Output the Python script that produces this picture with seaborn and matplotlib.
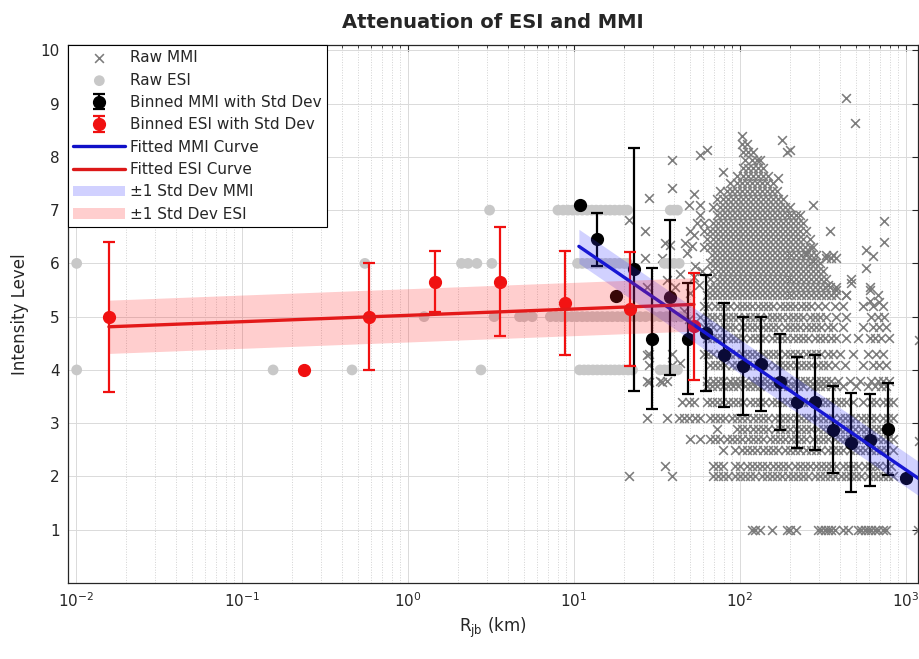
import numpy as np
import matplotlib
matplotlib.use("Agg")
import matplotlib.pyplot as plt
from matplotlib.ticker import LogLocator, NullLocator
import seaborn as sns

# -------------------------
# Data
# -------------------------
# binned MMI (distance km, mean intensity, std)
mmi_bin_r = [10.8, 13.8, 17.9, 23.0, 29.6, 37.8, 48.4, 62.1, 80.5, 104, 133, 173,
             220, 283, 365, 467, 607, 782, 1000]
mmi_bin_i = [7.10, 6.45, 5.39, 5.89, 4.59, 5.36, 4.59, 4.69, 4.28, 4.08, 4.11, 3.78,
             3.39, 3.39, 2.88, 2.63, 2.69, 2.89, 1.97]
mmi_bin_sd = [0.0, 0.50, 0.0, 2.28, 1.33, 1.46, 1.05, 1.09, 0.97, 0.92, 0.89, 0.90,
              0.85, 0.89, 0.81, 0.93, 0.86, 0.86, 0.0]

# binned ESI
esi_bin_r = [0.0158, 0.236, 0.58, 1.46, 3.58, 8.83, 21.7, 52.8]
esi_bin_i = [5.00, 4.00, 5.00, 5.66, 5.66, 5.26, 5.14, 4.82]
esi_bin_sd = [1.41, 0.0, 1.00, 0.58, 1.03, 0.98, 1.07, 1.00]

# fitted curves (end points, straight in log distance) and +-1 std bands
mmi_fit_r = [10.7, 1300]
mmi_fit_i = [6.32, 1.88]
mmi_fit_sd = 0.32
esi_fit_r = [0.0158, 52.8]
esi_fit_i = [4.81, 5.23]
esi_fit_sd = 0.50

# raw ESI observations, grouped by intensity level (km)
raw_esi_levels = [4, 5, 6, 7]
raw_esi_r = [
    [0.0101, 0.154, 0.236, 0.46, 2.75, 10.8, 11.5, 12.2, 13.0, 13.8, 14.7, 15.6,
     16.6, 17.6, 18.7, 19.9, 21.2, 22.5, 33, 35, 37.5, 40, 42],
    [0.58, 1.25, 3.3, 4.7, 5.0, 5.6, 7.2, 7.8, 8.4, 9.0, 9.7, 10.4, 11.2, 12.0,
     12.9, 13.8, 14.8, 15.9, 17.0, 18.3, 19.6, 21.0, 23, 25, 27, 30, 33, 36, 40, 44],
    [0.0101, 0.55, 2.1, 2.3, 2.6, 3.2, 10.5, 11.2, 12.0, 12.8, 13.6, 14.5, 15.5,
     16.5, 17.6, 18.8, 20.0, 21.0, 35, 37, 40, 43],
    [3.1, 8.0, 8.6, 9.2, 9.8, 10.5, 11.2, 12.0, 12.8, 13.6, 14.5, 15.5, 16.5, 17.6,
     18.8, 20.0, 21.0, 38, 40, 42],
]

# raw MMI observations: rows of log10(distance) per intensity level
raw_mmi_levels = [1.0, 2.0, 2.2, 2.5, 2.7, 2.9, 3.1, 3.4, 3.7, 3.8, 4.1, 4.3, 4.6,
                  4.8, 5.0, 5.2, 5.4, 5.55, 5.7, 5.85, 6.0, 6.15, 6.3, 6.45, 6.6,
                  6.75, 6.9, 7.05, 7.2, 7.35, 7.5, 7.65, 7.8, 7.95, 8.1, 8.25, 8.4]
raw_mmi_logr = [
    [2.07, 2.09, 2.12, 2.19, 2.28, 2.30, 2.34, 2.47, 2.49, 2.51, 2.53, 2.55, 2.57, 2.62,
     2.65, 2.71, 2.73, 2.75, 2.77, 2.79, 2.81, 2.83, 2.86, 2.88, 3.07],
    [1.33, 1.59, 1.84, 1.87, 1.90, 1.93, 1.97, 2.00, 2.03, 2.06, 2.09, 2.13, 2.16, 2.19,
     2.22, 2.25, 2.29, 2.32, 2.35, 2.38, 2.41, 2.45, 2.48, 2.51, 2.54, 2.57, 2.61, 2.64,
     2.67, 2.70, 2.73, 2.77, 2.80, 2.83, 2.86, 2.89, 2.92],
    [1.55, 1.84, 1.87, 1.90, 1.97, 2.00, 2.04, 2.07, 2.10, 2.13, 2.16, 2.20, 2.23, 2.26,
     2.29, 2.33, 2.36, 2.39, 2.42, 2.46, 2.49, 2.52, 2.55, 2.58, 2.62, 2.65, 2.68, 2.71,
     2.75, 2.78, 2.81, 2.84, 2.88, 2.91],
    [1.90, 1.97, 2.01, 2.04, 2.07, 2.10, 2.14, 2.17, 2.20, 2.23, 2.27, 2.30, 2.33, 2.36,
     2.40, 2.43, 2.46, 2.49, 2.53, 2.56, 2.59, 2.62, 2.66, 2.69, 2.72, 2.75, 2.79, 2.82,
     2.85, 2.88, 2.92],
    [1.70, 1.76, 1.82, 1.85, 1.88, 1.92, 1.95, 1.98, 2.01, 2.05, 2.08, 2.11, 2.14, 2.18,
     2.21, 2.24, 2.27, 2.31, 2.34, 2.37, 2.40, 2.44, 2.47, 2.50, 2.53, 2.57, 2.60, 2.63,
     2.66, 2.70, 2.73, 2.76, 2.79, 2.83, 2.86, 2.89, 2.92],
    [1.86, 1.98, 2.01, 2.04, 2.08, 2.11, 2.14, 2.17, 2.21, 2.24, 2.27, 2.30, 2.34, 2.37,
     2.40, 2.43, 2.47, 2.50, 2.53, 2.56, 2.60, 2.63, 2.66, 2.69, 2.73, 2.76, 2.79, 2.82,
     2.85, 2.88],
    [1.44, 1.56, 1.63, 1.66, 1.69, 1.73, 1.76, 1.82, 1.85, 1.88, 1.91, 1.95, 1.98, 2.01,
     2.04, 2.08, 2.11, 2.14, 2.17, 2.21, 2.24, 2.27, 2.30, 2.34, 2.37, 2.40, 2.43, 2.47,
     2.50, 2.53, 2.56, 2.60, 2.63, 2.66, 2.69, 2.73, 2.76, 2.79, 2.82, 2.86, 2.89, 2.92],
    [1.65, 1.69, 1.72, 1.80, 1.83, 1.86, 1.89, 1.93, 1.96, 1.99, 2.02, 2.06, 2.09, 2.12,
     2.15, 2.19, 2.22, 2.25, 2.28, 2.32, 2.35, 2.38, 2.41, 2.45, 2.48, 2.51, 2.54, 2.58,
     2.61, 2.64, 2.68, 2.74, 2.79, 2.82, 2.86, 2.89, 2.92],
    [1.80, 1.83, 1.86, 1.90, 1.93, 1.96, 1.99, 2.03, 2.06, 2.09, 2.12, 2.16, 2.19, 2.22,
     2.25, 2.29, 2.32, 2.35, 2.38, 2.42, 2.45, 2.48, 2.51, 2.55, 2.58, 2.62, 2.70, 2.77,
     2.81, 2.85, 2.88],
    [1.44, 1.52, 1.56, 1.80, 1.84, 1.87, 1.90, 1.94, 1.97, 2.00, 2.03, 2.07, 2.10, 2.13,
     2.16, 2.20, 2.23, 2.26, 2.29, 2.33, 2.36, 2.39, 2.42, 2.46, 2.49, 2.52, 2.55, 2.59,
     2.66, 2.72, 2.79, 2.83, 2.86, 2.90],
    [1.45, 1.59, 1.82, 1.85, 1.88, 1.91, 1.95, 1.98, 2.01, 2.04, 2.08, 2.11, 2.14, 2.17,
     2.21, 2.24, 2.27, 2.30, 2.34, 2.37, 2.40, 2.43, 2.47, 2.50, 2.53, 2.57, 2.63, 2.74,
     2.80, 2.84, 2.88],
    [1.45, 1.59, 1.78, 1.81, 1.84, 1.88, 1.91, 1.94, 1.97, 2.01, 2.04, 2.07, 2.10, 2.14,
     2.17, 2.20, 2.23, 2.27, 2.30, 2.33, 2.36, 2.40, 2.43, 2.46, 2.49, 2.53, 2.56, 2.60,
     2.68, 2.77, 2.82, 2.86],
    [1.80, 1.83, 1.86, 1.89, 1.93, 1.96, 1.99, 2.02, 2.06, 2.09, 2.12, 2.15, 2.19, 2.22,
     2.25, 2.28, 2.32, 2.35, 2.38, 2.41, 2.45, 2.48, 2.51, 2.55, 2.58, 2.64, 2.71, 2.78,
     2.81, 2.85, 2.90],
    [1.78, 1.81, 1.84, 1.88, 1.91, 1.94, 1.97, 2.01, 2.04, 2.07, 2.10, 2.14, 2.17, 2.20,
     2.23, 2.27, 2.30, 2.33, 2.36, 2.40, 2.43, 2.46, 2.49, 2.53, 2.56, 2.62, 2.74, 2.80,
     2.84, 2.88],
    [1.59, 1.76, 1.80, 1.83, 1.86, 1.90, 1.93, 1.96, 1.99, 2.03, 2.06, 2.09, 2.12, 2.16,
     2.19, 2.22, 2.25, 2.29, 2.32, 2.35, 2.38, 2.42, 2.45, 2.48, 2.52, 2.58, 2.64, 2.79,
     2.83, 2.87],
    [1.78, 1.81, 1.85, 1.88, 1.91, 1.94, 1.98, 2.01, 2.04, 2.07, 2.11, 2.14, 2.17, 2.20,
     2.24, 2.27, 2.30, 2.33, 2.37, 2.40, 2.43, 2.47, 2.51, 2.57, 2.62, 2.74, 2.80, 2.86],
    [1.80, 1.83, 1.86, 1.89, 1.92, 1.95, 1.98, 2.01, 2.04, 2.07, 2.10, 2.13, 2.16, 2.19,
     2.22, 2.25, 2.28, 2.31, 2.34, 2.37, 2.40, 2.43, 2.46, 2.49, 2.52, 2.55, 2.58, 2.64,
     2.83],
    [1.82, 1.85, 1.88, 1.91, 1.94, 1.97, 2.00, 2.03, 2.06, 2.09, 2.12, 2.15, 2.18, 2.21,
     2.24, 2.27, 2.30, 2.33, 2.36, 2.39, 2.42, 2.45, 2.48, 2.51, 2.54, 2.58, 2.78],
    [1.82, 1.86, 1.89, 1.92, 1.95, 1.98, 2.01, 2.04, 2.07, 2.10, 2.13, 2.16, 2.19, 2.22,
     2.25, 2.28, 2.31, 2.34, 2.37, 2.40, 2.43, 2.46, 2.49, 2.52, 2.67],
    [1.83, 1.87, 1.90, 1.93, 1.96, 1.99, 2.02, 2.05, 2.08, 2.11, 2.14, 2.17, 2.20, 2.23,
     2.26, 2.29, 2.32, 2.35, 2.38, 2.41, 2.44, 2.47, 2.50],
    [1.82, 1.85, 1.88, 1.91, 1.94, 1.97, 2.00, 2.03, 2.06, 2.09, 2.12, 2.15, 2.18, 2.21,
     2.24, 2.27, 2.30, 2.33, 2.36, 2.39, 2.42, 2.45, 2.48],
    [1.83, 1.86, 1.89, 1.92, 1.95, 1.98, 2.01, 2.04, 2.07, 2.10, 2.13, 2.16, 2.19, 2.22,
     2.25, 2.28, 2.31, 2.34, 2.37, 2.40, 2.43, 2.46, 2.52, 2.56],
    [1.82, 1.85, 1.88, 1.91, 1.94, 1.97, 2.00, 2.03, 2.06, 2.09, 2.12, 2.15, 2.18, 2.21,
     2.24, 2.27, 2.30, 2.33, 2.36, 2.39, 2.42, 2.44],
    [1.80, 1.84, 1.87, 1.90, 1.93, 1.96, 1.99, 2.02, 2.05, 2.08, 2.11, 2.14, 2.17, 2.20,
     2.23, 2.26, 2.29, 2.32, 2.35, 2.38, 2.42],
    [1.78, 1.82, 1.85, 1.88, 1.91, 1.94, 1.97, 2.00, 2.03, 2.06, 2.09, 2.12, 2.15, 2.18,
     2.21, 2.24, 2.27, 2.30, 2.33, 2.36, 2.40],
    [1.78, 1.84, 1.87, 1.90, 1.93, 1.96, 1.99, 2.02, 2.05, 2.08, 2.11, 2.14, 2.17, 2.20,
     2.23, 2.26, 2.29, 2.32, 2.35, 2.38],
    [1.76, 1.86, 1.89, 1.92, 1.95, 1.98, 2.01, 2.04, 2.07, 2.10, 2.13, 2.16, 2.19, 2.22,
     2.25, 2.28, 2.31, 2.34, 2.36],
    [1.84, 1.88, 1.91, 1.94, 1.97, 2.00, 2.03, 2.06, 2.09, 2.12, 2.15, 2.18, 2.21, 2.24,
     2.27, 2.30],
    [1.86, 1.90, 1.93, 1.96, 1.99, 2.02, 2.05, 2.08, 2.11, 2.14, 2.17, 2.20, 2.23, 2.26],
    [1.88, 1.92, 1.95, 1.98, 2.01, 2.04, 2.07, 2.10, 2.13, 2.16, 2.19, 2.22],
    [1.94, 1.98, 2.01, 2.04, 2.07, 2.10, 2.13, 2.16, 2.20],
    [1.98, 2.02, 2.05, 2.08, 2.11, 2.14, 2.17],
    [2.02, 2.05, 2.08, 2.11, 2.14],
    [2.03, 2.07, 2.10, 2.12],
    [2.02, 2.05, 2.08],
    [2.01, 2.04],
    [2.01],
]

# scattered raw MMI points outside the dense rows
raw_mmi_out_logr = [2.64, 2.69, 2.25, 2.28, 2.30, 1.76, 1.80, 1.59, 1.90, 2.23, 1.59, 1.45,
                    1.72, 1.69, 1.76, 2.44, 2.87, 2.87, 2.54, 1.33, 1.43, 2.76, 2.80, 2.76,
                    2.52, 2.55, 2.58, 2.40, 2.44, 1.43, 1.53, 1.58, 1.71, 1.72, 1.67, 1.55,
                    2.64, 2.67, 2.84, 2.78, 2.78, 2.53, 2.58, 1.44, 1.56, 1.61, 1.64, 1.44,
                    1.45, 1.53, 1.64, 1.66, 1.69, 1.73, 1.74, 1.70, 1.68, 1.72, 1.75, 1.70,
                    1.77, 1.78, 3.08, 3.08]
raw_mmi_out_i = [9.10, 8.63, 8.32, 8.10, 8.12, 8.04, 8.12, 7.94, 7.71, 7.60, 7.41, 7.22,
                 7.30, 7.09, 7.09, 7.09, 6.80, 6.41, 6.60, 6.82, 6.60, 6.25, 6.13, 5.91,
                 6.10, 6.10, 6.10, 6.20, 6.04, 6.10, 6.10, 6.35, 6.32, 6.54, 6.38, 6.38,
                 5.41, 5.63, 5.28, 5.50, 5.30, 5.60, 5.50, 5.56, 5.69, 5.56, 5.81, 4.28,
                 3.78, 3.78, 4.13, 5.10, 4.95, 5.95, 6.75, 6.60, 6.20, 5.75, 5.60, 5.45,
                 5.85, 6.30, 4.56, 2.66]

# -------------------------
# Flatten raw series
# -------------------------
mmi_r = [10 ** v for row in raw_mmi_logr for v in row] + [10 ** v for v in raw_mmi_out_logr]
mmi_i = [lvl for lvl, row in zip(raw_mmi_levels, raw_mmi_logr) for _ in row] + raw_mmi_out_i
esi_r = [v for row in raw_esi_r for v in row]
esi_i = [lvl for lvl, row in zip(raw_esi_levels, raw_esi_r) for _ in row]

# -------------------------
# Plot
# -------------------------
sns.set_style("whitegrid")
plt.rcParams["font.family"] = ["DejaVu Sans"]
plt.rcParams["axes.unicode_minus"] = True

fig = plt.figure(figsize=(9.2, 6.59), dpi=100)
ax = fig.add_axes([68 / 920, 1 - 583 / 659, 850 / 920, 538 / 659])
ax.set_xscale("log")

h_raw_mmi = ax.scatter(mmi_r, mmi_i, marker="x", s=40, color="#7c7c7c",
                       linewidths=1.15, zorder=2, label="Raw MMI")
sns.scatterplot(x=esi_r, y=esi_i, ax=ax, color="#c8c8c8", s=60, edgecolor="none",
                zorder=3, legend=False)
h_raw_esi = ax.collections[-1]
h_raw_esi.set_label("Raw ESI")

h_bin_mmi = ax.errorbar(mmi_bin_r, mmi_bin_i, yerr=mmi_bin_sd, fmt="o", color="black",
                        ms=8.5, capsize=4.5, elinewidth=1.6, capthick=1.6, zorder=4,
                        label="Binned MMI with Std Dev")
h_bin_esi = ax.errorbar(esi_bin_r, esi_bin_i, yerr=esi_bin_sd, fmt="o", color="#f01010",
                        ms=8.5, capsize=4.5, elinewidth=1.6, capthick=1.6, zorder=5,
                        label="Binned ESI with Std Dev")

h_fit_mmi, = ax.plot(mmi_fit_r, mmi_fit_i, color="#1010c8", lw=2.4, zorder=6,
                     label="Fitted MMI Curve")
h_fit_esi, = ax.plot(esi_fit_r, esi_fit_i, color="#dc1818", lw=2.4, zorder=7,
                     label="Fitted ESI Curve")

h_band_mmi = ax.fill_between(mmi_fit_r, np.array(mmi_fit_i) - mmi_fit_sd,
                             np.array(mmi_fit_i) + mmi_fit_sd, color="#3030ff",
                             alpha=0.22, lw=0, zorder=8, label="\u00b11 Std Dev MMI")
h_band_esi = ax.fill_between(esi_fit_r, np.array(esi_fit_i) - esi_fit_sd,
                             np.array(esi_fit_i) + esi_fit_sd, color="#ff2020",
                             alpha=0.22, lw=0, zorder=9, label="\u00b11 Std Dev ESI")

# axes look
ax.set_xlim(10 ** -2.048, 10 ** 3.072)
ax.set_ylim(0, 10.1)
ax.set_yticks(range(1, 11))
ax.xaxis.set_major_locator(LogLocator(base=10, numticks=12))
ax.xaxis.set_minor_locator(LogLocator(base=10, subs=np.arange(2, 10), numticks=12))
ax.yaxis.set_minor_locator(NullLocator())

ax.grid(True, which="major", color="#dadada", lw=0.7, ls="-")
ax.grid(True, which="minor", axis="x", color="#d2d2d2", lw=0.7, ls=":")
ax.set_axisbelow(True)

for sp in ax.spines.values():
    sp.set_color("#262626")
    sp.set_linewidth(0.9)

ax.tick_params(which="both", direction="in", top=True, right=True, colors="#262626",
               labelsize=11, pad=6)
ax.tick_params(which="major", length=4, width=0.8)
ax.tick_params(which="minor", length=2.5, width=0.6)

ax.set_title("Attenuation of ESI and MMI", fontsize=14, fontweight="bold", pad=12)
ax.set_xlabel(r"R$_{\mathrm{jb}}$ (km)", fontsize=12, color="#262626", labelpad=4)
ax.set_ylabel("Intensity Level", fontsize=12, color="#262626", labelpad=8)

leg = ax.legend(handles=[h_raw_mmi, h_raw_esi, h_bin_mmi, h_bin_esi, h_fit_mmi,
                         h_fit_esi, h_band_mmi, h_band_esi],
                loc="upper left", bbox_to_anchor=(0, 1), borderaxespad=0,
                fontsize=11, frameon=True, fancybox=False, framealpha=1,
                edgecolor="black", handlelength=3.4, handletextpad=0.3,
                labelspacing=0.48, borderpad=0.35)
leg.get_frame().set_linewidth(0.8)
leg.set_zorder(20)

fig.savefig("out.png", dpi=100)
